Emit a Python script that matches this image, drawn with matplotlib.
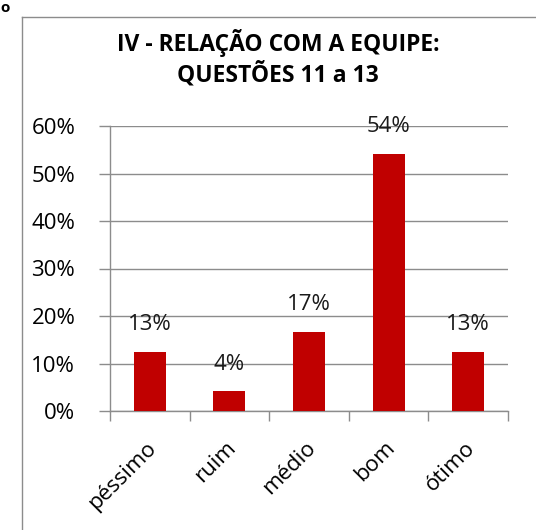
import numpy as np
import matplotlib
matplotlib.use('Agg')
import matplotlib.pyplot as plt
import matplotlib.transforms as mtransforms
from matplotlib.lines import Line2D

categorias = ['péssimo', 'ruim', 'médio', 'bom', 'ótimo']
valores = [12.5, 4.17, 16.67, 54.17, 12.5]
rotulos = ['13%', '4%', '17%', '54%', '13%']
yticks = [0, 10, 20, 30, 40, 50, 60]

W, H = 536, 530
plt.rcParams['font.family'] = ['Open Sans', 'DejaVu Sans']

fig = plt.figure(figsize=(W / 100, H / 100), dpi=100)
# área do gráfico em pixels: x 110..508, y 126..411
ax = fig.add_axes([110 / W, 1 - 411 / H, 398 / W, 285 / H])

x = np.arange(len(categorias))
ax.bar(x, valores, width=0.4, color='#c00000', zorder=3)
for xi, v, t in zip(x, valores, rotulos):
    ax.annotate(t, (xi, v), xytext=(0, 27), textcoords='offset pixels',
                ha='center', va='center', fontsize=16, color='#1a1a1a')

ax.set_xlim(-0.5, len(categorias) - 0.5)
ax.set_ylim(0, 60)
ax.set_yticks(yticks)
ax.set_yticklabels([f'{t}%' for t in yticks], fontsize=16)
ax.yaxis.grid(True, color='#8c8c8c', lw=1, zorder=0)

ax.set_xticks(x)
ax.set_xticklabels(categorias, fontsize=16, rotation=45, ha='right',
                   rotation_mode='anchor')
ax.set_xticks(np.arange(-0.5, len(categorias)), minor=True)
ax.tick_params(axis='x', which='major', length=0, pad=19)
ax.tick_params(axis='x', which='minor', length=7, color='#8c8c8c', width=1)
ax.tick_params(axis='y', length=8, color='#8c8c8c', width=1, pad=17)

# desloca os rótulos do eixo x um pouco para a esquerda
desloc = mtransforms.ScaledTranslation(-4 / 100, 0, fig.dpi_scale_trans)
for lbl in ax.get_xticklabels():
    lbl.set_transform(lbl.get_transform() + desloc)

for s in ['top', 'right']:
    ax.spines[s].set_visible(False)
for s in ['left', 'bottom']:
    ax.spines[s].set_color('#8c8c8c')
    ax.spines[s].set_linewidth(1)

fig.text(278 / W, 1 - 43 / H, 'IV - RELAÇÃO COM A EQUIPE:', ha='center',
         va='center', fontsize=16.5, fontweight='bold')
fig.text(278 / W, 1 - 75 / H, 'QUESTÕES 11 a 13', ha='center',
         va='center', fontsize=16.5, fontweight='bold')

# moldura do gráfico (cortada)
fig.add_artist(Line2D([22 / W, 22 / W], [0, 1 - 17 / H], color='#8c8c8c', lw=1))
fig.add_artist(Line2D([22 / W, 1], [1 - 17 / H, 1 - 17 / H], color='#8c8c8c', lw=1))
fig.text(0, 1 - 8 / H, 'o', ha='left', va='center', fontsize=11,
         fontweight='bold')

fig.savefig('out.png', dpi=100)
